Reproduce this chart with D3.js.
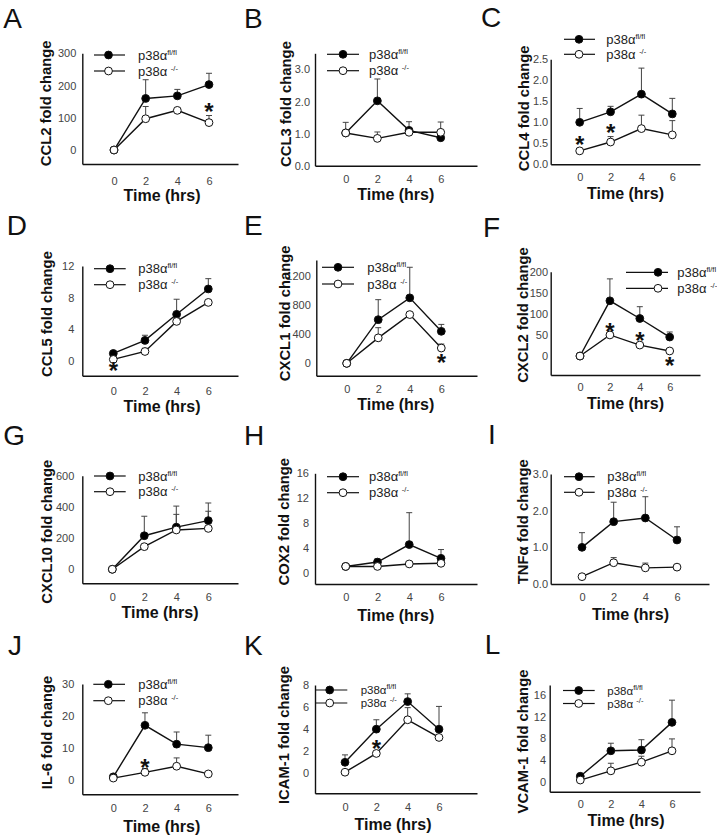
<!DOCTYPE html>
<html><head><meta charset="utf-8">
<script src="https://cdn.jsdelivr.net/npm/d3@7"></script>
<style>
body{margin:0;background:#fff}
svg{display:block}
text{font-family:"Liberation Sans",Arial,Helvetica,sans-serif}
</style>
</head><body>
<svg id="c" width="717" height="839"></svg>
<script>
// ---------- DATA ----------
const times = [0, 2, 4, 6];
const xTickValues = [0, 2, 4, 6];
const panelLetters = ["A","B","C","D","E","F","G","H","I","J","K","L"];
const genes = ["CCL2","CCL3","CCL4","CCL5","CXCL1","CXCL2","CXCL10","COX2","TNFα","IL-6","ICAM-1","VCAM-1"];
const seriesBase = "p38α";
const seriesSup = ["fl/fl", "-/-"];

const ccl2Flox = [0, 160, 168, 203];   const ccl2FloxErr = [0, 58, 20, 35];
const ccl2Null = [0, 97, 123, 85];     const ccl2NullErr = [0, 38, 5, 22];
const ccl2Ticks = [0, 100, 200, 300];  const ccl2Stars = [6];

const ccl3Flox = [1.02, 2.02, 1.1, 0.87];  const ccl3FloxErr = [0, 0.68, 0.27, 0];
const ccl3Null = [1.02, 0.85, 1.04, 1.04]; const ccl3NullErr = [0.33, 0.2, 0.1, 0.32];
const ccl3Ticks = [0, 1, 2, 3];            const ccl3Stars = [];

const ccl4Flox = [1.0, 1.25, 1.67, 1.2];   const ccl4FloxErr = [0.33, 0.13, 0.62, 0.37];
const ccl4Null = [0.32, 0.53, 0.85, 0.7];  const ccl4NullErr = [0, 0.13, 0.32, 0.34];
const ccl4Ticks = [0, 0.5, 1.0, 1.5, 2.0, 2.5]; const ccl4Stars = [0, 2];

const ccl5Flox = [0.95, 2.6, 5.9, 9.1];    const ccl5FloxErr = [0, 0.65, 1.9, 1.3];
const ccl5Null = [0.2, 1.2, 5.0, 7.4];     const ccl5NullErr = [0, 0.4, 1.0, 0];
const ccl5Ticks = [0, 4, 8, 12];           const ccl5Stars = [0];

const cxcl1Flox = [0, 600, 900, 440];      const cxcl1FloxErr = [0, 275, 420, 95];
const cxcl1Null = [0, 350, 670, 210];      const cxcl1NullErr = [0, 140, 0, 55];
const cxcl1Ticks = [0, 400, 800, 1200];    const cxcl1Stars = [6];

const cxcl2Flox = [0, 131, 89, 45];        const cxcl2FloxErr = [0, 52, 28, 12];
const cxcl2Null = [0, 50, 26, 12];         const cxcl2NullErr = [0, 0, 0, 0];
const cxcl2Ticks = [0, 50, 100, 150, 200]; const cxcl2Stars = [2, 4, 6];

const cxcl10Flox = [0, 215, 270, 312];     const cxcl10FloxErr = [0, 125, 135, 113];
const cxcl10Null = [0, 145, 252, 262];     const cxcl10NullErr = [0, 0, 100, 110];
const cxcl10Ticks = [0, 200, 400, 600];    const cxcl10Stars = [];

const cox2Flox = [1.1, 1.8, 4.6, 2.4];     const cox2FloxErr = [0, 0.5, 5.1, 1.4];
const cox2Null = [1.1, 1.1, 1.5, 1.6];     const cox2NullErr = [0, 0, 0, 0];
const cox2Ticks = [0, 4, 8, 12, 16];       const cox2Stars = [];

const tnfFlox = [1.0, 1.7, 1.8, 1.2];      const tnfFloxErr = [0.4, 0.53, 0.58, 0.36];
const tnfNull = [0.2, 0.58, 0.44, 0.46];   const tnfNullErr = [0, 0.14, 0.13, 0];
const tnfTicks = [0, 1, 2, 3];             const tnfStars = [];

const il6Flox = [1.0, 17.1, 11.2, 10.1];   const il6FloxErr = [0, 3.9, 3.8, 3.9];
const il6Null = [0.6, 2.4, 4.3, 1.9];      const il6NullErr = [0, 1.2, 2.6, 0];
const il6Ticks = [0, 10, 20, 30];          const il6Stars = [2];

const icamFlox = [1.0, 4.0, 6.5, 4.0];     const icamFloxErr = [0.67, 0.85, 0.7, 2.06];
const icamNull = [0.1, 1.8, 4.85, 3.25];   const icamNullErr = [0, 0, 1.1, 0];
const icamTicks = [0, 2, 4, 6, 8];         const icamStars = [2];

const vcamFlox = [1.0, 5.7, 5.85, 10.95];  const vcamFloxErr = [0, 1.4, 1.9, 4.1];
const vcamNull = [0.3, 2.0, 3.6, 5.7];     const vcamNullErr = [0, 1.4, 1.1, 2.2];
const vcamTicks = [0, 4, 8, 12, 16];       const vcamStars = [];

const panelData = [
  {flox: ccl2Flox, floxErr: ccl2FloxErr, nul: ccl2Null, nulErr: ccl2NullErr, ticks: ccl2Ticks, stars: ccl2Stars, fmt: "d"},
  {flox: ccl3Flox, floxErr: ccl3FloxErr, nul: ccl3Null, nulErr: ccl3NullErr, ticks: ccl3Ticks, stars: ccl3Stars, fmt: ".1f"},
  {flox: ccl4Flox, floxErr: ccl4FloxErr, nul: ccl4Null, nulErr: ccl4NullErr, ticks: ccl4Ticks, stars: ccl4Stars, fmt: ".1f"},
  {flox: ccl5Flox, floxErr: ccl5FloxErr, nul: ccl5Null, nulErr: ccl5NullErr, ticks: ccl5Ticks, stars: ccl5Stars, fmt: "d"},
  {flox: cxcl1Flox, floxErr: cxcl1FloxErr, nul: cxcl1Null, nulErr: cxcl1NullErr, ticks: cxcl1Ticks, stars: cxcl1Stars, fmt: "d"},
  {flox: cxcl2Flox, floxErr: cxcl2FloxErr, nul: cxcl2Null, nulErr: cxcl2NullErr, ticks: cxcl2Ticks, stars: cxcl2Stars, fmt: "d"},
  {flox: cxcl10Flox, floxErr: cxcl10FloxErr, nul: cxcl10Null, nulErr: cxcl10NullErr, ticks: cxcl10Ticks, stars: cxcl10Stars, fmt: "d"},
  {flox: cox2Flox, floxErr: cox2FloxErr, nul: cox2Null, nulErr: cox2NullErr, ticks: cox2Ticks, stars: cox2Stars, fmt: "d"},
  {flox: tnfFlox, floxErr: tnfFloxErr, nul: tnfNull, nulErr: tnfNullErr, ticks: tnfTicks, stars: tnfStars, fmt: ".1f"},
  {flox: il6Flox, floxErr: il6FloxErr, nul: il6Null, nulErr: il6NullErr, ticks: il6Ticks, stars: il6Stars, fmt: "d"},
  {flox: icamFlox, floxErr: icamFloxErr, nul: icamNull, nulErr: icamNullErr, ticks: icamTicks, stars: icamStars, fmt: "d"},
  {flox: vcamFlox, floxErr: vcamFloxErr, nul: vcamNull, nulErr: vcamNullErr, ticks: vcamTicks, stars: vcamStars, fmt: "d"}
];

// ---------- LAYOUT (pixel positions) ----------
const layout = [
  {ax:82.3, ay:164, x0:114, x6:209, yDom:[-43.4,300], yTop:53.3, xEnd:238, tp:6, xp:13.3,
   lg:{x1:94,x2:125,mx:108.5,y1:55,y2:71,tx:138,fs:13}, yl:{x:46.3,y:103.3}, xl:{x:162,y:201}, lt:{x:3.3,y:28.3}, starDy:[-16]},
  {ax:315, ay:165.7, x0:345.7, x6:440.7, yDom:[0,3.5], yTop:53.3, xEnd:477, tp:5, xp:9.2,
   lg:{x1:327,x2:359,mx:343,y1:54.3,y2:70.7,tx:369,fs:13}, yl:{x:286,y:104}, xl:{x:395.8,y:200}, lt:{x:244,y:28.3}, starDy:[]},
  {ax:550.7, ay:164.3, x0:579.7, x6:672.3, yDom:[0,2.5], yTop:59.3, xEnd:700, tp:2.5, xp:9.3,
   lg:{x1:564,x2:595,mx:579,y1:39.3,y2:54.3,tx:606.3,fs:13}, yl:{x:523.5,y:108.3}, xl:{x:625.5,y:199}, lt:{x:481,y:26.7}, starDy:[-10.7,-14]},
  {ax:82.3, ay:375.7, x0:113.3, x6:208.3, yDom:[-1.86,12], yTop:266, xEnd:238, tp:8, xp:11.6,
   lg:{x1:94,x2:125.7,mx:110,y1:268.7,y2:284.7,tx:138.3,fs:13}, yl:{x:47,y:314}, xl:{x:162,y:411.7}, lt:{x:6.7,y:235}, starDy:[7]},
  {ax:316.3, ay:375.7, x0:346.7, x6:441.3, yDom:[-170,1420], yTop:260, xEnd:477, tp:5.5, xp:9.2,
   lg:{x1:322,x2:354,mx:338,y1:267.3,y2:284,tx:367.3,fs:13}, yl:{x:285,y:313.3}, xl:{x:395.8,y:410}, lt:{x:244,y:235}, starDy:[9.7]},
  {ax:550.7, ay:375, x0:580, x6:669.7, yDom:[-45,200], yTop:271.7, xEnd:700, tp:2.7, xp:8.1,
   lg:{x1:626,x2:668,mx:658,y1:272.3,y2:288.3,tx:677.3,fs:13}, yl:{x:523,y:315}, xl:{x:625.5,y:409}, lt:{x:483,y:236.7}, starDy:[-8.3,-9,10]},
  {ax:82.3, ay:583.3, x0:112.3, x6:208.3, yDom:[-90,600], yTop:475.7, xEnd:238, tp:8, xp:9.5,
   lg:{x1:94,x2:125.7,mx:110,y1:476,y2:491.7,tx:138.3,fs:13}, yl:{x:47,y:531.7}, xl:{x:160,y:617.5}, lt:{x:3.3,y:445}, starDy:[]},
  {ax:315, ay:584, x0:345.7, x6:441, yDom:[-1.71,16], yTop:473.3, xEnd:477, tp:6, xp:9.6,
   lg:{x1:327,x2:359,mx:343,y1:476.7,y2:492.7,tx:369,fs:13}, yl:{x:284,y:521.7}, xl:{x:395.8,y:621}, lt:{x:244,y:445}, starDy:[]},
  {ax:550.7, ay:584, x0:582, x6:677, yDom:[0,3], yTop:474, xEnd:709, tp:2.7, xp:9.6,
   lg:{x1:564,x2:594.7,mx:579,y1:476.7,y2:492.3,tx:607.3,fs:13}, yl:{x:523,y:521.7}, xl:{x:630.5,y:620}, lt:{x:488,y:444}, starDy:[]},
  {ax:82.3, ay:794.3, x0:113.3, x6:208.3, yDom:[-4.47,30], yTop:684, xEnd:238, tp:8, xp:10.1,
   lg:{x1:93.3,x2:125,mx:108.3,y1:684.3,y2:700.7,tx:138.3,fs:13}, yl:{x:47,y:732.5}, xl:{x:161.7,y:831.7}, lt:{x:8,y:655}, starDy:[-9.7]},
  {ax:315, ay:793.3, x0:345, x6:439, yDom:[-1.81,8], yTop:685, xEnd:477, tp:6, xp:9.5,
   lg:{x1:315.7,x2:347.3,mx:329.7,y1:690,y2:703,tx:360.7,fs:11.5}, yl:{x:284,y:735}, xl:{x:393,y:830}, lt:{x:244,y:655}, starDy:[-9]},
  {ax:549.7, ay:791.7, x0:580.3, x6:672, yDom:[-1.85,17.85], yTop:685, xEnd:700, tp:3.7, xp:8.9,
   lg:{x1:563,x2:594.7,mx:578.7,y1:690.5,y2:703.5,tx:607.3,fs:11.5}, yl:{x:523,y:741.5}, xl:{x:626,y:825.7}, lt:{x:484.7,y:654}, starDy:[]}
];

// ---------- DRAW ----------
const svg = d3.select("#c");
svg.append("rect").attr("width",717).attr("height",839).attr("fill","#fff");
const R = 3.9;

panelData.forEach((d, i) => {
  const L = layout[i];
  const g = svg.append("g");

  const xBase = d3.scaleLinear().domain([0,6]).range([L.x0, L.x6]);
  const x = d3.scaleLinear().domain([xBase.invert(L.ax), xBase.invert(L.xEnd)]).range([L.ax, L.xEnd]);
  const y = d3.scaleLinear().domain(L.yDom).range([L.ay, L.yTop]);

  // axes
  const yAxis = d3.axisLeft(y).tickValues(d.ticks).tickSize(0).tickSizeOuter(0).tickPadding(L.tp)
    .tickFormat(d3.format(d.fmt));
  const gy = g.append("g").attr("transform", `translate(${L.ax},0)`).call(yAxis);
  const xAxis = d3.axisBottom(x).tickValues(xTickValues).tickSize(0).tickSizeOuter(0).tickPadding(L.xp)
    .tickFormat(d3.format("d"));
  const gx = g.append("g").attr("transform", `translate(0,${L.ay})`).call(xAxis);
  [gy, gx].forEach(a => {
    a.select(".domain").attr("stroke","#111").attr("stroke-width",1.4);
    a.selectAll("text").attr("font-size",11).attr("fill","#444")
      .attr("font-family",'"Liberation Sans",Arial,sans-serif');
  });

  // axis titles
  g.append("text").attr("transform", `translate(${L.yl.x},${L.yl.y}) rotate(-90)`)
    .attr("text-anchor","middle").attr("dominant-baseline","central")
    .attr("font-size",14.8).attr("font-weight","bold").attr("fill","#111").text(genes[i] + " fold change");
  g.append("text").attr("x", L.xl.x).attr("y", L.xl.y).attr("text-anchor","middle")
    .attr("font-size",16).attr("font-weight","bold").attr("fill","#111").text("Time (hrs)");
  g.append("text").attr("x", L.lt.x).attr("y", L.lt.y)
    .attr("font-size",28).attr("fill","#111").text(panelLetters[i]);

  const line = d3.line().x((v,k) => x(times[k])).y(v => y(v));
  const series = [
    {vals: d.flox, errs: d.floxErr, fill: "#000"},
    {vals: d.nul, errs: d.nulErr, fill: "#fff"}
  ];

  // error bars
  series.forEach(s => {
    s.vals.forEach((v, k) => {
      if (!s.errs[k]) return;
      const cx = x(times[k]), top = y(v + s.errs[k]);
      g.append("line").attr("x1",cx).attr("x2",cx).attr("y1",y(v)).attr("y2",top)
        .attr("stroke","#444").attr("stroke-width",1);
      g.append("line").attr("x1",cx-3).attr("x2",cx+3).attr("y1",top).attr("y2",top)
        .attr("stroke","#444").attr("stroke-width",1);
    });
  });
  // lines
  series.forEach(s => {
    g.append("path").attr("d", line(s.vals)).attr("fill","none").attr("stroke","#111").attr("stroke-width",1.4);
  });
  // markers
  series.forEach(s => {
    g.selectAll(null).data(s.vals).enter().append("circle")
      .attr("cx",(v,k)=>x(times[k])).attr("cy",v=>y(v)).attr("r",R)
      .attr("fill",s.fill).attr("stroke","#111").attr("stroke-width",1);
  });

  // significance stars (relative to knockout series)
  d.stars.forEach((t, k) => {
    const idx = times.indexOf(t);
    const cy = y(d.nul[idx]) + L.starDy[k];
    g.append("text").attr("x", x(t)).attr("y", cy + 13).attr("text-anchor","middle")
      .attr("font-size",24).attr("font-weight","bold").attr("fill","#111").text("*");
  });

  // legend
  const lg = L.lg;
  [lg.y1, lg.y2].forEach((ly, k) => {
    g.append("line").attr("x1",lg.x1).attr("x2",lg.x2).attr("y1",ly).attr("y2",ly)
      .attr("stroke","#111").attr("stroke-width",1.2);
    g.append("circle").attr("cx",lg.mx).attr("cy",ly).attr("r",R)
      .attr("fill", series[k].fill).attr("stroke","#111").attr("stroke-width",1);
    const t = g.append("text").attr("x",lg.tx).attr("y",ly + lg.fs*0.35).attr("font-size",lg.fs).attr("fill","#222");
    t.append("tspan").text(k === 0 ? seriesBase : seriesBase + " ");
    t.append("tspan").attr("dy",-5).attr("font-size",7.5).text(seriesSup[k]);
  });
});
</script>
</body></html>
